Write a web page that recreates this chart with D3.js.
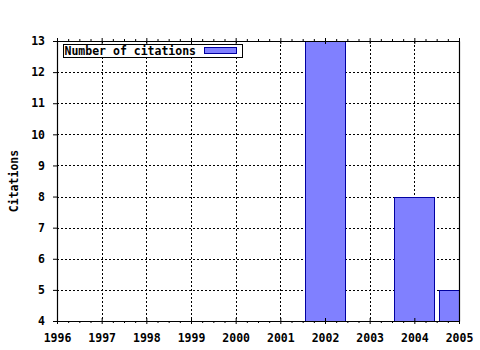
<!DOCTYPE html>
<html>
<head>
<meta charset="utf-8">
<script src="https://cdn.jsdelivr.net/npm/d3@7"></script>
<style>
  body { margin: 0; background: #fff; }
  svg { display: block; }
  text { font-family: "DejaVu Sans Mono", monospace; font-weight: bold; font-size: 11.5px; fill: #000; }
</style>
</head>
<body>
<div id="chart"></div>
<script>
const years = [2002, 2004, 2005];
const citations = [13, 8, 5];
const yearTicks = [1996, 1997, 1998, 1999, 2000, 2001, 2002, 2003, 2004, 2005];
const citationTicks = [4, 5, 6, 7, 8, 9, 10, 11, 12, 13];
const seriesName = 'Number of citations';
const yLabel = 'Citations';

const width = 480, height = 350;
const margin = { top: 41, right: 21, bottom: 29, left: 57 };
const innerW = width - margin.left - margin.right;
const innerH = height - margin.top - margin.bottom;

const svg = d3.select('#chart').append('svg')
  .attr('width', width).attr('height', height);

const g = svg.append('g').attr('transform', `translate(${margin.left},${margin.top})`);

const x = d3.scaleLinear().domain([1996, 2005]).range([0, innerW]);
const y = d3.scaleLinear().domain([4, 13]).range([innerH, 0]);

svg.append('defs').append('clipPath').attr('id', 'plot')
  .append('rect').attr('width', innerW).attr('height', innerH);

// dotted grid
const grid = g.append('g').attr('stroke', '#000').attr('stroke-dasharray', '2,2')
  .attr('shape-rendering', 'crispEdges');
grid.selectAll('.gx').data(yearTicks.slice(1, -1)).enter().append('line')
  .attr('x1', d => Math.round(x(d)) + 0.5).attr('x2', d => Math.round(x(d)) + 0.5)
  .attr('y1', 0).attr('y2', innerH);
grid.selectAll('.gy').data(citationTicks.slice(1, -1)).enter().append('line')
  .attr('y1', d => Math.round(y(d)) + 0.5).attr('y2', d => Math.round(y(d)) + 0.5)
  .attr('x1', 0).attr('x2', innerW);

// bars, 0.9 year wide, clipped to the plot
const barW = x(1996.9) - x(1996);
g.append('g').attr('clip-path', 'url(#plot)')
  .selectAll('rect').data(years).enter().append('rect')
  .attr('x', d => Math.round(x(d) - barW / 2) + 0.5)
  .attr('y', (d, i) => Math.round(y(citations[i])) + 0.5)
  .attr('width', Math.round(barW))
  .attr('height', (d, i) => y(0) - y(citations[i]))
  .attr('fill', '#8080ff')
  .attr('stroke', '#0000a0')
  .attr('shape-rendering', 'crispEdges');

// axes
const xMinor = d3.range(1996, 2005.01, 0.25).filter(v => v % 1 !== 0);

const bottomAxis = g.append('g').attr('transform', `translate(0,${innerH})`)
  .call(d3.axisBottom(x).tickValues(yearTicks).tickFormat(d3.format('d')).tickSizeInner(3).tickSizeOuter(0).tickPadding(8));
bottomAxis.selectAll('.tick line').attr('y1', -3);
bottomAxis.append('g').selectAll('line').data(xMinor).enter().append('line')
  .attr('x1', d => x(d) + 0.5).attr('x2', d => x(d) + 0.5).attr('y1', 0).attr('y2', 2)
  .attr('stroke', '#000');

const topAxis = g.append('g')
  .call(d3.axisTop(x).tickValues(yearTicks).tickFormat('').tickSizeInner(3).tickSizeOuter(0));
topAxis.selectAll('.tick line').attr('y1', 3);
topAxis.append('g').selectAll('line').data(xMinor).enter().append('line')
  .attr('x1', d => x(d) + 0.5).attr('x2', d => x(d) + 0.5).attr('y1', 0).attr('y2', -2)
  .attr('stroke', '#000');

const leftAxis = g.append('g')
  .call(d3.axisLeft(y).tickValues(citationTicks).tickFormat(d3.format('d')).tickSizeInner(4).tickSizeOuter(0).tickPadding(8));

g.append('g').attr('transform', `translate(${innerW},0)`)
  .call(d3.axisRight(y).tickValues([]).tickSizeOuter(0));

g.selectAll('.domain').attr('stroke', '#000').attr('stroke-width', 1.2);
g.selectAll('.tick text').style('font-family', '"DejaVu Sans Mono", monospace')
  .style('font-weight', 'bold').style('font-size', '11.5px');
bottomAxis.selectAll('.tick text').attr('dy', '0.85em');

// y label
svg.append('text')
  .attr('transform', `translate(18,${margin.top + innerH / 2}) rotate(-90)`)
  .attr('text-anchor', 'middle')
  .text(yLabel);

// legend
const legend = g.append('g').attr('transform', 'translate(6.5,3.5)');
legend.append('rect').attr('width', 179).attr('height', 13)
  .attr('fill', '#fff').attr('stroke', '#000').attr('shape-rendering', 'crispEdges');
legend.append('text').attr('x', 1).attr('y', 10).text(seriesName);
legend.append('rect').attr('x', 141).attr('y', 3).attr('width', 32).attr('height', 6)
  .attr('fill', '#8080ff').attr('stroke', '#0000a0').attr('shape-rendering', 'crispEdges');
</script>
</body>
</html>
